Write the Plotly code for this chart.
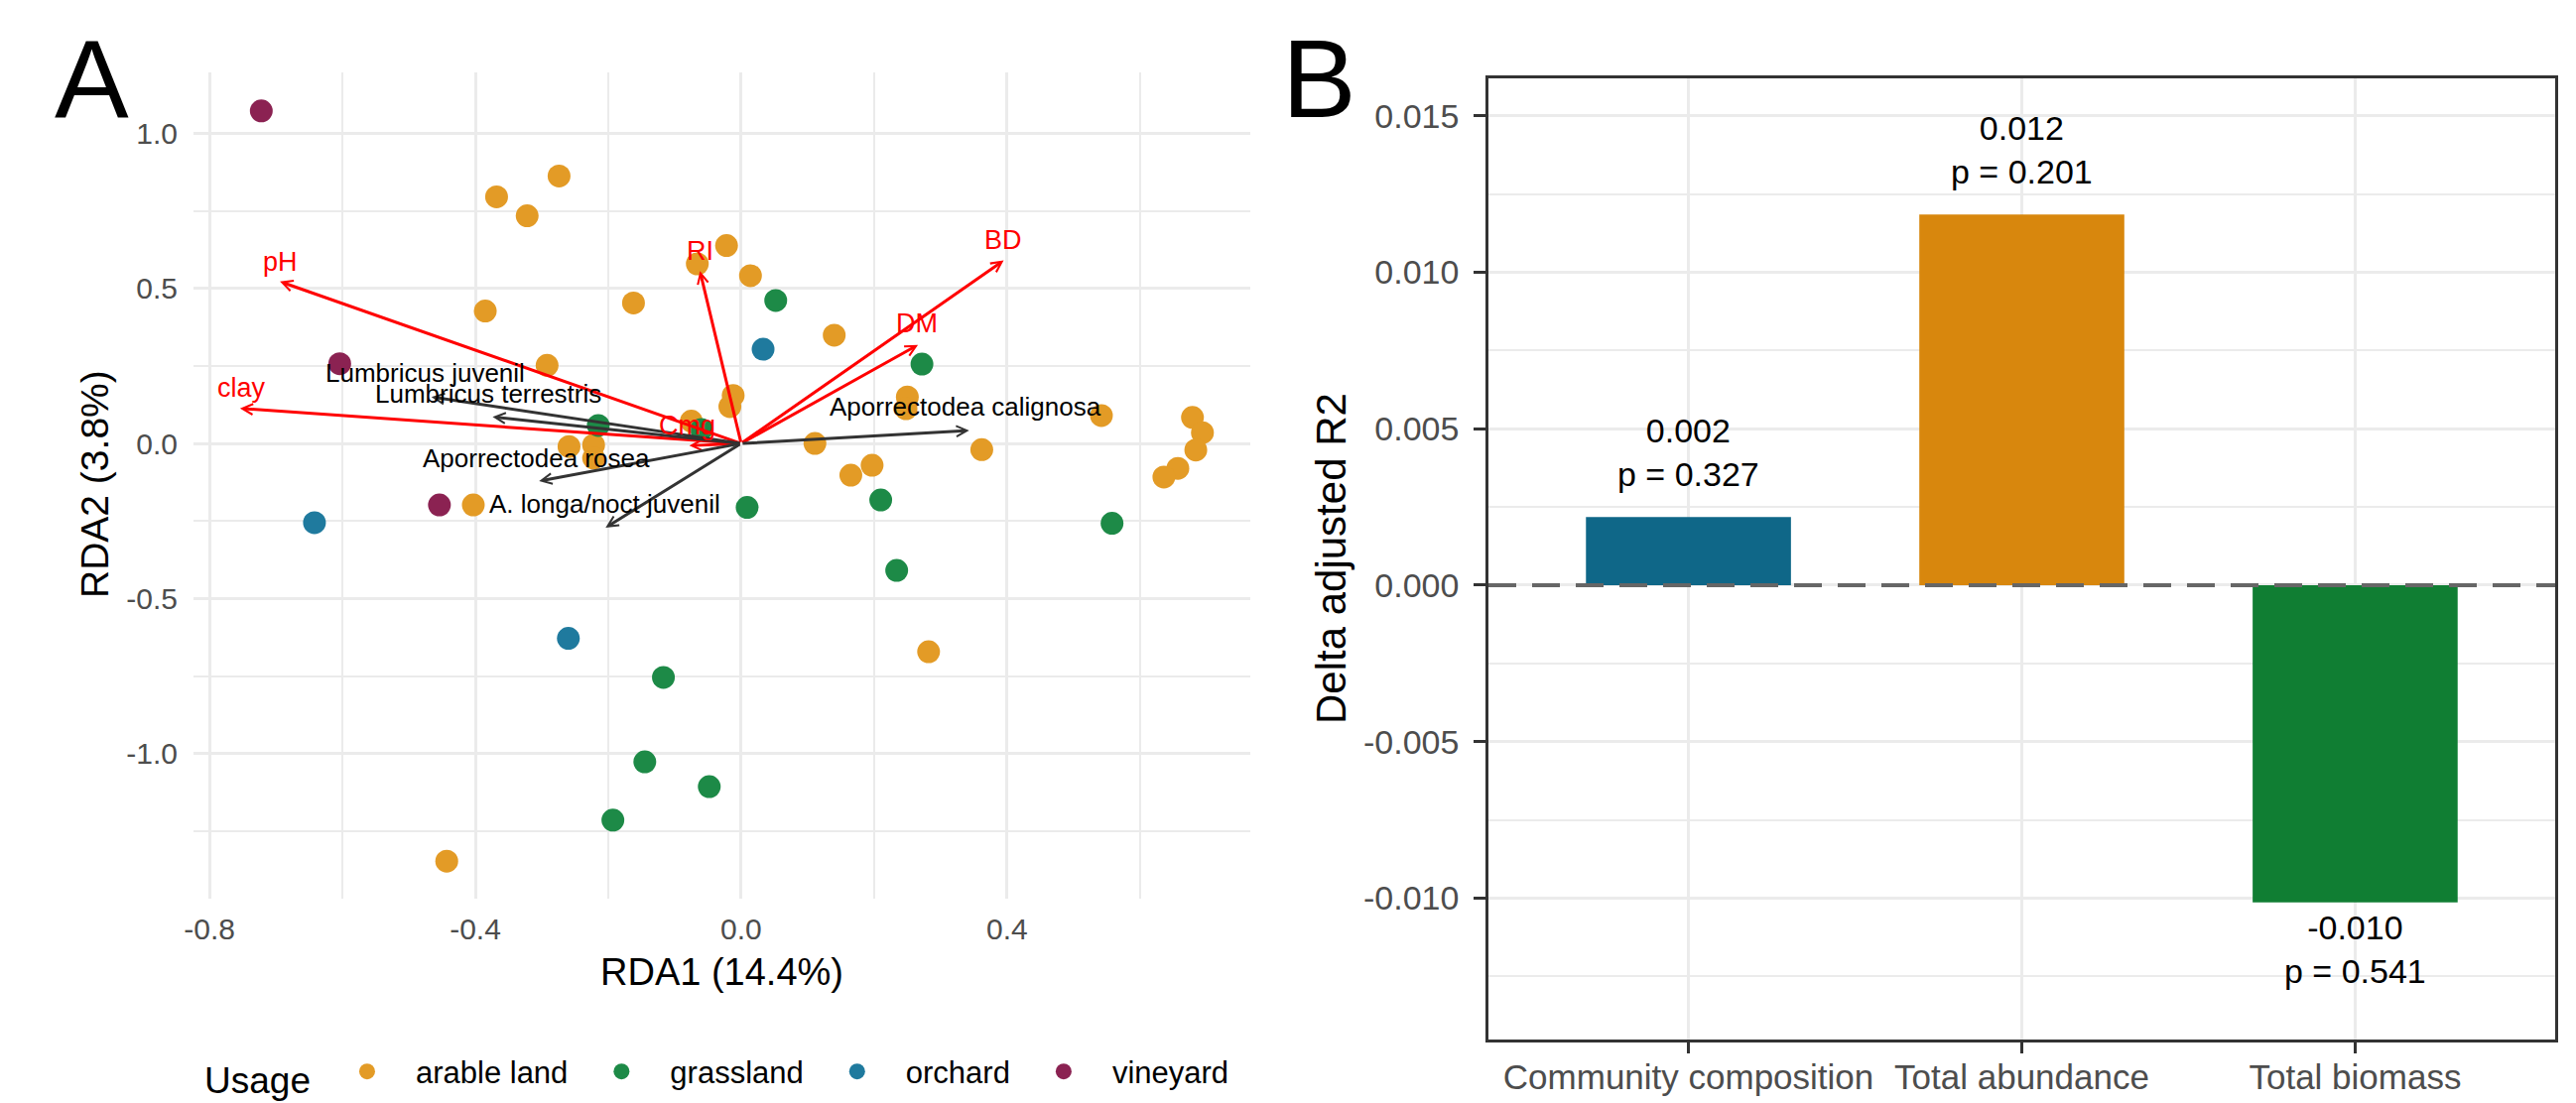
import plotly.graph_objects as go

# ---------------- Panel A data (RDA biplot) ----------------
usage_groups = ["arable land", "grassland", "orchard", "vineyard"]
usage_colors = ["#E39B26", "#1D8A47", "#1F7A9E", "#8B2252"]

arable_x = [-0.274, -0.368, -0.322, -0.022, -0.066, 0.014, -0.162, -0.385, 0.140, -0.292,
            -0.012, -0.017, 0.250, 0.248, 0.542, 0.679, 0.694, 0.684, 0.657, 0.636,
            -0.075, 0.111, 0.362, 0.197, 0.165, -0.259, -0.222, -0.222, -0.403, 0.282, -0.443]
arable_y = [0.862, 0.795, 0.734, 0.638, 0.579, 0.541, 0.453, 0.427, 0.349, 0.252,
            0.155, 0.119, 0.150, 0.112, 0.090, 0.084, 0.035, -0.021, -0.080, -0.108,
            0.072, 0.000, -0.020, -0.070, -0.102, -0.010, -0.005, -0.047, -0.198, -0.671, -1.346]

grass_x = [0.052, 0.272, -0.215, -0.060, 0.009, 0.210, 0.234, 0.558, -0.117, -0.145, -0.048, -0.193]
grass_y = [0.461, 0.256, 0.058, 0.045, -0.206, -0.182, -0.409, -0.257, -0.754, -1.026, -1.106, -1.214]

orchard_x = [0.033, -0.642, -0.260]
orchard_y = [0.304, -0.255, -0.628]

vine_x = [-0.722, -0.604, -0.454]
vine_y = [1.072, 0.257, -0.198]

# environmental vectors (red)
env_names = ["pH", "clay", "RI", "BD", "DM", "Cmg"]
env_x = [-0.694, -0.754, -0.062, 0.395, 0.266, -0.078]
env_y = [0.522, 0.113, 0.556, 0.590, 0.318, -0.007]
env_lab_x = [-0.694, -0.752, -0.062, 0.394, 0.265, -0.082]
env_lab_y = [0.584, 0.178, 0.621, 0.655, 0.386, 0.059]

# species vectors (black)
spp_names = ["Lumbricus juvenil", "Lumbricus terrestris", "Aporrectodea calignosa",
             "Aporrectodea rosea", "A. longa/noct juvenil"]
spp_x = [-0.466, -0.374, 0.343, -0.304, -0.204]
spp_y = [0.150, 0.086, 0.042, -0.121, -0.271]
spp_lab_x = [-0.476, -0.380, 0.338, -0.308, -0.205]
spp_lab_y = [0.226, 0.159, 0.119, -0.047, -0.196]

a_xticks = [-0.8, -0.4, 0.0, 0.4]
a_xticktext = ["-0.8", "-0.4", "0.0", "0.4"]
a_xminor = [-0.6, -0.2, 0.2, 0.6]
a_yticks = [-1.0, -0.5, 0.0, 0.5, 1.0]
a_yticktext = ["-1.0", "-0.5", "0.0", "0.5", "1.0"]
a_yminor = [-1.25, -0.75, -0.25, 0.25, 0.75]

# ---------------- Panel B data ----------------
b_categories = ["Community composition", "Total abundance", "Total biomass"]
b_values = [0.00218, 0.01185, -0.01014]
b_value_text = ["0.002", "0.012", "-0.010"]
b_p_text = ["p = 0.327", "p = 0.201", "p = 0.541"]
b_colors = ["#0F6788", "#D8870D", "#107E33"]
b_yticks = [-0.010, -0.005, 0.0, 0.005, 0.010, 0.015]
b_yticktext = ["-0.010", "-0.005", "0.000", "0.005", "0.010", "0.015"]
b_yminor = [-0.0125, -0.0075, -0.0025, 0.0025, 0.0075, 0.0125]

FONT = "Liberation Sans, Arial, Helvetica, sans-serif"
GRID = "#EBEBEB"
TICKC = "#4D4D4D"

# page body has an 8px margin: figure is sized so it ends exactly at the window edge
OFF = 8
W, H = 2596 - OFF, 1112 - OFF


def fx(xw):
    return (xw - OFF) / W


def fy(yw):
    return 1 - (yw - OFF) / H


fig = go.Figure()

group_x = [arable_x, grass_x, orchard_x, vine_x]
group_y = [arable_y, grass_y, orchard_y, vine_y]
for name, col, gx, gy in zip(usage_groups, usage_colors, group_x, group_y):
    fig.add_trace(go.Scatter(
        x=gx, y=gy, mode="markers", name=name,
        marker=dict(color=col, size=23, line=dict(width=0)),
        xaxis="x", yaxis="y", hoverinfo="skip"))

fig.add_trace(go.Bar(
    x=b_categories, y=b_values, marker=dict(color=b_colors, line=dict(width=0)),
    width=0.615, xaxis="x2", yaxis="y2", showlegend=False, hoverinfo="skip"))

annotations = []
for xs, ys, col in [(env_x, env_y, "#FF0000"), (spp_x, spp_y, "#333333")]:
    for ex, ey in zip(xs, ys):
        annotations.append(dict(
            x=ex, y=ey, ax=0, ay=0, xref="x", yref="y", axref="x", ayref="y",
            text="", showarrow=True, arrowhead=5, arrowsize=0.7, arrowwidth=3,
            arrowcolor=col, standoff=0))
for nm, lx, ly in zip(env_names, env_lab_x, env_lab_y):
    annotations.append(dict(x=lx, y=ly, xref="x", yref="y", text=nm, showarrow=False,
                            font=dict(family=FONT, size=27, color="#FF0000")))
for nm, lx, ly in zip(spp_names, spp_lab_x, spp_lab_y):
    annotations.append(dict(x=lx, y=ly, xref="x", yref="y", text=nm, showarrow=False,
                            font=dict(family=FONT, size=26, color="#000000")))

for cat, v, vt, pt in zip(b_categories, b_values, b_value_text, b_p_text):
    annotations.append(dict(
        x=cat, y=v, xref="x2", yref="y2", text=vt + "<br>" + pt, showarrow=False,
        yanchor="middle", yshift=65 if v > 0 else -47,
        font=dict(family=FONT, size=34, color="#000000")))

annotations += [
    dict(x=fx(92), y=fy(80), xref="paper", yref="paper", text="A", showarrow=False,
         xanchor="center", yanchor="middle", font=dict(family=FONT, size=112, color="#000")),
    dict(x=fx(1329), y=fy(80), xref="paper", yref="paper", text="B", showarrow=False,
         xanchor="center", yanchor="middle", font=dict(family=FONT, size=112, color="#000")),
    dict(x=fx(727.5), y=fy(980), xref="paper", yref="paper", text="RDA1 (14.4%)",
         showarrow=False, xanchor="center", yanchor="middle",
         font=dict(family=FONT, size=38, color="#000")),
    dict(x=fx(96), y=fy(488), xref="paper", yref="paper", text="RDA2 (3.8%)",
         showarrow=False, textangle=-90, xanchor="center", yanchor="middle",
         font=dict(family=FONT, size=39, color="#000")),
    dict(x=fx(1341), y=fy(563), xref="paper", yref="paper", text="Delta adjusted R2",
         showarrow=False, textangle=-90, xanchor="center", yanchor="middle",
         font=dict(family=FONT, size=42, color="#000")),
]

shapes = [dict(type="line", xref="x2 domain", x0=0, x1=1, yref="y2", y0=0, y1=0,
               line=dict(color="#666666", width=4, dash="28px,16px"), layer="above")]

fig.update_layout(
    width=W, height=H,
    margin=dict(l=0, r=0, t=0, b=0, autoexpand=False),
    paper_bgcolor="white", plot_bgcolor="white",
    font=dict(family=FONT, color="#000"),
    annotations=annotations, shapes=shapes,
    xaxis=dict(domain=[fx(195), fx(1260)], range=[-0.824, 0.766], anchor="y",
               tickmode="array", tickvals=a_xticks, ticktext=a_xticktext,
               showgrid=True, gridcolor=GRID, gridwidth=3, zeroline=False, showline=False,
               ticks="", tickfont=dict(family=FONT, size=30, color=TICKC), ticklabelstandoff=10,
               minor=dict(tickmode="array", tickvals=a_xminor, showgrid=True, gridcolor=GRID, gridwidth=2)),
    yaxis=dict(domain=[fy(906), fy(73)], range=[-1.467, 1.196], anchor="x",
               tickmode="array", tickvals=a_yticks, ticktext=a_yticktext,
               showgrid=True, gridcolor=GRID, gridwidth=3, zeroline=False, showline=False,
               ticks="", tickfont=dict(family=FONT, size=30, color=TICKC), ticklabelstandoff=15,
               minor=dict(tickmode="array", tickvals=a_yminor, showgrid=True, gridcolor=GRID, gridwidth=2)),
    xaxis2=dict(domain=[fx(1500), fx(2575)], range=[-0.6, 2.6], anchor="y2",
                type="category", showgrid=True, gridcolor=GRID, gridwidth=3, zeroline=False,
                showline=True, mirror=True, linecolor="#333333", linewidth=2.5,
                ticks="outside", ticklen=12, tickwidth=2.5, tickcolor="#333333",
                tickfont=dict(family=FONT, size=35, color=TICKC), ticklabelstandoff=-6),
    yaxis2=dict(domain=[fy(1047.6), fy(79)], range=[-0.01451, 0.0162],
                anchor="x2", tickmode="array", tickvals=b_yticks, ticktext=b_yticktext,
                showgrid=True, gridcolor=GRID, gridwidth=3, zeroline=False,
                showline=True, mirror=True, linecolor="#333333", linewidth=2.5,
                ticks="outside", ticklen=12, tickwidth=2.5, tickcolor="#333333",
                tickfont=dict(family=FONT, size=34, color=TICKC), ticklabelstandoff=8,
                minor=dict(tickmode="array", tickvals=b_yminor, showgrid=True, gridcolor=GRID, gridwidth=2)),
    legend=dict(orientation="h", x=fx(204), xanchor="left", y=fy(1083), yanchor="middle",
                title=dict(text="Usage", side="left", font=dict(family=FONT, size=37, color="#000")),
                font=dict(family=FONT, size=31, color="#000"), bgcolor="rgba(0,0,0,0)",
                itemsizing="trace", itemwidth=88, tracegroupgap=0),
    showlegend=True,
)

fig.write_html("out.html")
